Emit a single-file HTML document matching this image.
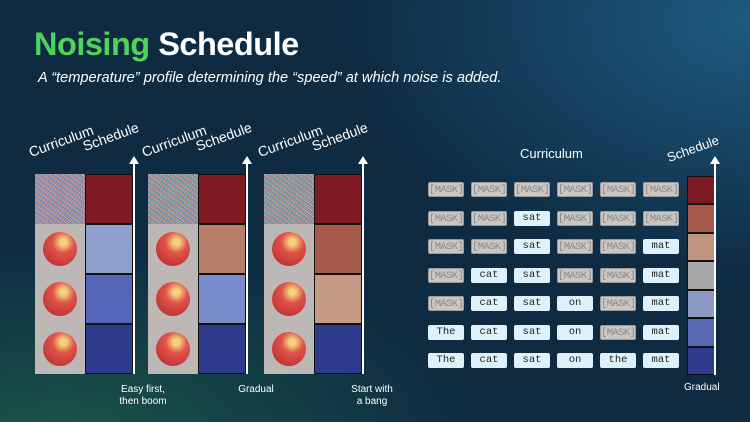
<!DOCTYPE html>
<html><head><meta charset="utf-8">
<style>
*{margin:0;padding:0;box-sizing:border-box}
body{width:750px;height:422px;overflow:hidden;font-family:"Liberation Sans",sans-serif;color:#fff;
background:radial-gradient(ellipse 420px 260px at 760px 20px,#1e5a80 0%,rgba(20,60,90,0) 100%),radial-gradient(ellipse 420px 200px at 60px 440px,#1a5548 0%,rgba(20,70,70,0) 100%),#0e2b42;position:relative}
.abs{position:absolute}
.title{left:34px;top:26px;font-size:32.5px;font-weight:bold;letter-spacing:-0.5px}
.sub{left:38px;top:70px;font-size:14.6px;font-style:italic}
.rot{position:absolute;font-size:14px;transform:rotate(-20deg);transform-origin:left bottom;white-space:nowrap}
.cell{position:absolute;border:1px solid #111}
.noise{position:absolute;background:
repeating-linear-gradient(37deg,rgba(255,80,80,.5) 0 1px,rgba(80,255,120,.4) 1px 2px,rgba(90,90,255,.5) 2px 3px,rgba(230,230,230,.4) 3px 4px),
repeating-linear-gradient(-53deg,rgba(200,60,200,.4) 0 1px,rgba(60,200,200,.4) 1px 2px,rgba(220,220,60,.3) 2px 3px),#8a8590}
.apple{position:absolute;background:#bdb8b5}
.apple i{position:absolute;left:8px;top:8px;width:34px;height:34px;border-radius:50%;background:radial-gradient(circle at 60% 30%,#f3d27a 0 10%,#e0524a 35%,#b2262a 100%)}
.arrow{position:absolute;width:2px;background:#fff}
.arrow:before{content:"";position:absolute;left:-4px;top:-6px;border-left:5px solid transparent;border-right:5px solid transparent;border-bottom:8px solid #fff}
.cap{position:absolute;font-size:10px;text-align:center;line-height:12px;width:80px}
.tok{position:absolute;width:36px;height:15px;border-radius:2px;font-family:"Liberation Mono",monospace;font-size:10.5px;line-height:15px;text-align:center}
.tok.m{background:#c9c6c4;color:#8a8a8a;border:1px solid #9a9a9a;letter-spacing:-0.6px}
.tok.w{background:#dff2fb;color:#222}
</style></head><body>
<div class="abs title"><span style="color:#4fd35a">Noising</span> Schedule</div>
<div class="abs sub">A “temperature” profile determining the “speed” at which noise is added.</div>
<div id="left"></div>
<div id="right"></div>
<script>
const panelX=[35,148,264];
const panelCaps=["Easy first,<br>then boom","Gradual","Start with<br>a bang"];
const panelColors=[
["#7d1a24","#8f9fcc","#5565b8","#2e3a8c"],
["#7d1a24","#b8806a","#7a8ccb","#2e3a8c"],
["#7d1a24","#a55a4a","#c29a86","#2e3a8c"]];
const tokenRows=[
["[MASK]","[MASK]","[MASK]","[MASK]","[MASK]","[MASK]"],
["[MASK]","[MASK]","sat","[MASK]","[MASK]","[MASK]"],
["[MASK]","[MASK]","sat","[MASK]","[MASK]","mat"],
["[MASK]","cat","sat","[MASK]","[MASK]","mat"],
["[MASK]","cat","sat","on","[MASK]","mat"],
["The","cat","sat","on","[MASK]","mat"],
["The","cat","sat","on","the","mat"]];
const barColors=["#7d1a24","#a55a4a","#c09580","#a8a8a8","#8b99c4","#5868b5","#2f3a8c"];

const L=document.getElementById('left');
function mk(parent,cls,css,html){const e=document.createElement('div');e.className=cls;e.style.cssText=css;if(html)e.innerHTML=html;parent.appendChild(e);return e;}
panelX.forEach((x,p)=>{
  const top=174,h=50;
  const c1=mk(L,'rot',`left:${x-3}px;top:${top-30}px`,'Curriculum');
  
  
  const c2=mk(L,'rot',`left:${x+51}px;top:${top-36}px`,'Schedule');
  
  
  panelColors[p].forEach((col,i)=>{
    const y=top+i*h;
    const im=i===0?mk(L,'noise',`left:${x}px;top:${y}px;width:50px;height:${h}px`):mk(L,'apple',`left:${x}px;top:${y}px;width:50px;height:${h}px`,'<i></i>');
    
    
    const c=mk(L,'cell',`left:${x+50}px;top:${y}px;width:48px;height:${h}px;background:${col}`);
    
    
  });
  const a=mk(L,'arrow',`left:${x+98}px;top:${top-12}px;height:${12+4*h}px`);
  
  
  const cp=mk(L,'cap',`left:${x+68}px;top:${top+4*h+10}px`,panelCaps[p]);
  
  
});
const R=document.getElementById('right');
const t=mk(R,'abs',`left:520px;top:146px;font-size:13px`,'Curriculum');


tokenRows.forEach((row,r)=>{
  row.forEach((w,c)=>{
    const e=mk(R,'tok '+(w==='[MASK]'?'m':'w'),`left:${428+c*43}px;top:${182+r*28.5}px`,w);
    
    
  });
});
const segH=199/barColors.length;
barColors.forEach((col,i)=>{
  const e=mk(R,'cell',`left:687px;top:${176+i*segH}px;width:28px;height:${segH}px;background:${col}`);
  
  
});
const a=mk(R,'arrow',`left:714px;top:162px;height:213px`);


const s=mk(R,'rot',`left:670px;top:150px;font-size:13px`,'Schedule');


const g=mk(R,'abs',`left:684px;top:382px;font-size:10px`,'Gradual');


</script>
</body></html>
